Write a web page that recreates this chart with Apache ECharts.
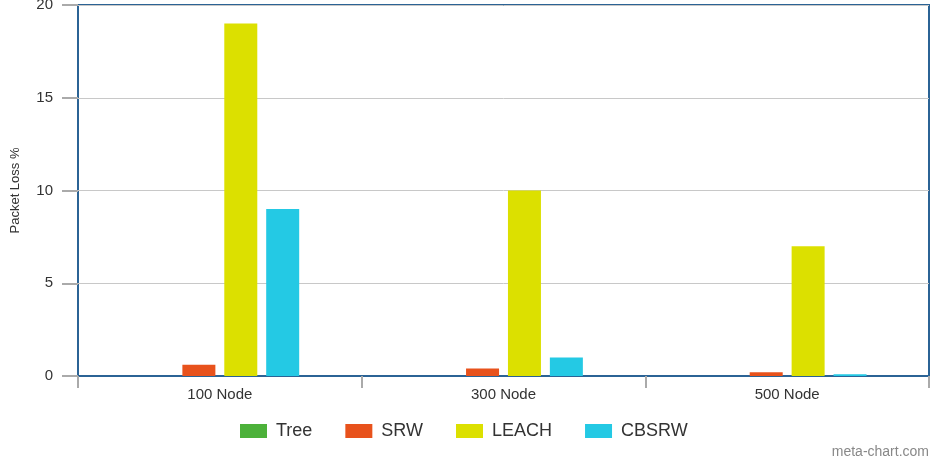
<!DOCTYPE html>
<html><head><meta charset="utf-8">
<script src="https://cdn.jsdelivr.net/npm/echarts@6/dist/echarts.min.js"></script>
<style>html,body{margin:0;padding:0;background:#fff}#c{width:932px;height:458px}</style>
</head><body><div id="c"></div>
<script>
const categories = ['100 Node', '300 Node', '500 Node'];
const tree = [0, 0, 0];
const srw = [0.6, 0.4, 0.2];
const leach = [19, 10, 7];
const cbsrw = [9, 1, 0.1];
const yTicks = [0, 5, 10, 15, 20];

const chart = echarts.init(document.getElementById('c'));
const font = 'Liberation Sans, Arial, Helvetica, sans-serif';
chart.setOption({
  animation: false,
  textStyle: { fontFamily: font },
  grid: { left: 78, right: 3, top: 5, bottom: 82, show: true, borderColor: '#2b6395', borderWidth: 2, containLabel: false, outerBoundsMode: 'none' },
  legend: {
    top: 417, left: 235, itemWidth: 27, itemHeight: 14, itemGap: 33,
    icon: 'rect',
    textStyle: { fontSize: 18, color: '#333', fontFamily: font, padding: [0, 0, 0, 4] },
    data: ['Tree', 'SRW', 'LEACH', 'CBSRW']
  },
  xAxis: {
    type: 'category', data: categories,
    axisLine: { show: true, lineStyle: { color: '#2b6395', width: 2 } },
    axisTick: { show: true, length: 12, lineStyle: { color: '#aaa', width: 2 } },
    axisLabel: { fontSize: 15, color: '#333', margin: 11 }
  },
  yAxis: {
    type: 'value', min: yTicks[0], max: yTicks[yTicks.length - 1], interval: 5,
    name: 'Packet Loss %', nameLocation: 'middle', nameGap: 56,
    nameTextStyle: { fontSize: 13, color: '#333' },
    axisLine: { show: false },
    axisTick: { show: true, length: 16, lineStyle: { color: '#aaa', width: 2 } },
    axisLabel: { fontSize: 15, color: '#333', margin: 25 },
    splitLine: { lineStyle: { color: '#c8c8c8', width: 1 } }
  },
  graphic: [{ type: 'text', right: 3, bottom: -1, style: { text: 'meta-chart.com', fill: '#888', fontSize: 14, fontFamily: font } }],
  series: [
    { name: 'Tree', type: 'bar', data: tree, barWidth: 33, barGap: '27%', itemStyle: { color: '#4cb13a' } },
    { name: 'SRW', type: 'bar', data: srw, barWidth: 33, barGap: '27%', itemStyle: { color: '#e8521c' } },
    { name: 'LEACH', type: 'bar', data: leach, barWidth: 33, barGap: '27%', itemStyle: { color: '#dce000' } },
    { name: 'CBSRW', type: 'bar', data: cbsrw, barWidth: 33, barGap: '27%', itemStyle: { color: '#24c9e4' } }
  ]
});
</script></body></html>
